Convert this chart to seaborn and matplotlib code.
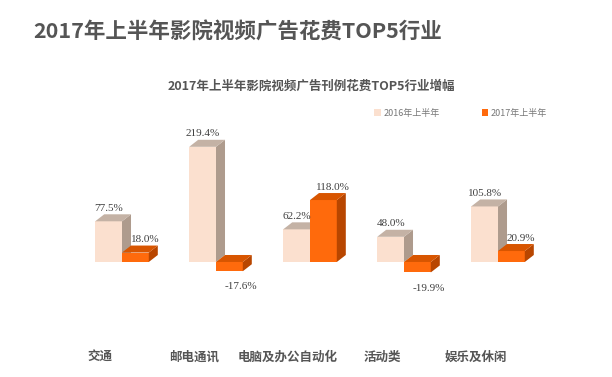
import matplotlib
matplotlib.use('Agg')
import numpy as np
import pandas as pd
import matplotlib.pyplot as plt
import seaborn as sns
from matplotlib.patches import Polygon, Patch
from matplotlib.transforms import ScaledTranslation

industries = ['交通', '邮电通讯', '电脑及办公自动化', '活动类', '娱乐及休闲']
growth_2016 = [77.5, 219.4, 62.2, 48.0, 105.8]
growth_2017 = [18.0, -17.6, 118.0, -19.9, 20.9]
periods = ['2016年上半年', '2017年上半年']

front_colors = ['#FBE0CF', '#FF6A0C']
side_colors = ['#AE9B8D', '#B84600']
top_colors = ['#C4B2A5', '#D85500']

df = pd.DataFrame({
    '行业': industries * 2,
    '增幅': growth_2016 + growth_2017,
    '时间': [periods[0]] * len(industries) + [periods[1]] * len(industries),
})

sns.set_theme(style='white')
plt.rcParams['font.family'] = ['Noto Sans CJK SC', 'DejaVu Sans']

fig = plt.figure(figsize=(6.12, 3.77), dpi=100)
fig.patch.set_facecolor('white')
ax = fig.add_axes([0.1072, 0.2215, 0.7987, 0.4178])

sns.barplot(data=df, x='行业', y='增幅', hue='时间', palette=front_colors,
            width=0.57, saturation=1, linewidth=0, legend=False, ax=ax)
ax.set_xlim(-0.6, 4.6)
ax.set_ylim(-60, 240)

# fake 3D depth: 9 px right, 7 px up
px_x = ax.bbox.width / 5.2
px_y = ax.bbox.height / 300
dx = 9 / px_x
dy = 7 / px_y

values = [growth_2016, growth_2017]
label_shift = [0, 7]  # points, orange labels sit a bit to the right
for k, cont in enumerate(ax.containers):
    for p, v in zip(cont.patches, values[k]):
        p.set_zorder(2 + k)
        x0, w = p.get_x(), p.get_width()
        y0, h = p.get_y(), p.get_height()
        top, bot = max(y0, y0 + h), min(y0, y0 + h)
        side = [(x0 + w, bot), (x0 + w + dx, bot + dy), (x0 + w + dx, top + dy), (x0 + w, top)]
        topf = [(x0, top), (x0 + dx, top + dy), (x0 + w + dx, top + dy), (x0 + w, top)]
        ax.add_patch(Polygon(side, closed=True, facecolor=side_colors[k], edgecolor='none', zorder=2 + k))
        ax.add_patch(Polygon(topf, closed=True, facecolor=top_colors[k], edgecolor='none', zorder=2 + k))
        if v >= 0:
            ax.annotate(f'{v:.1f}%', xy=(x0 + w / 2, top), xytext=(label_shift[k], 6),
                        textcoords='offset points', ha='center', va='bottom',
                        family='Liberation Serif', fontsize=8, color='#404040', zorder=5)
        else:
            ax.annotate(f'{v:.1f}%', xy=(x0 + w / 2, bot), xytext=(8, -8), textcoords='offset points',
                        ha='center', va='top', family='Liberation Serif', fontsize=8,
                        color='#404040', zorder=5)

sns.despine(ax=ax, left=True, bottom=True)
ax.set_yticks([])
ax.set_xlabel('')
ax.set_ylabel('')
ax.tick_params(axis='x', length=0, pad=41, labelsize=9, labelcolor='#555555')
for lbl in ax.get_xticklabels():
    lbl.set_fontweight('bold')
    lbl.set_transform(lbl.get_transform() + ScaledTranslation(-0.22, 0, fig.dpi_scale_trans))

handles = [Patch(facecolor=c, edgecolor='none') for c in front_colors]
fig.legend(handles, periods, loc='center', bbox_to_anchor=(0.753, 0.70), ncol=2, frameon=False,
           fontsize=6.5, handlelength=0.7, handleheight=0.7, handletextpad=0.3,
           columnspacing=4.7, labelcolor='#777777')

fig.text(33 / 612, 1 - 32 / 377, '2017年上半年影院视频广告花费TOP5行业', fontsize=15.5,
         fontweight='bold', color='#555555', ha='left', va='center')
fig.text(311 / 612, 1 - 86 / 377, '2017年上半年影院视频广告刊例花费TOP5行业增幅', fontsize=9,
         fontweight='bold', color='#555555', ha='center', va='center')

fig.savefig('out.png', dpi=100, facecolor='white')
